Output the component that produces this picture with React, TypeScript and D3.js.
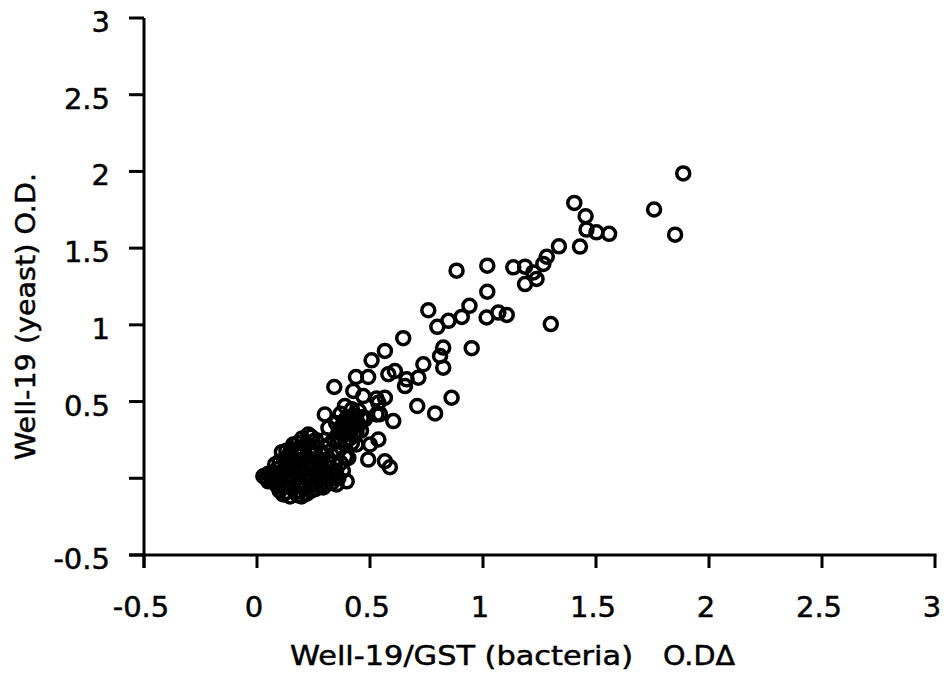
import React from "react";
import * as d3 from "d3";

const xTicks = [-0.5, 0, 0.5, 1, 1.5, 2, 2.5, 3];
const xTickLabels = ["-0.5", "0", "0.5", "1", "1.5", "2", "2.5", "3"];
const yTicks = [-0.5, 0, 0.5, 1, 1.5, 2, 2.5, 3];
const yTickLabels = ["-0.5", "", "0.5", "1", "1.5", "2", "2.5", "3"];

const xTitle = "Well-19/GST (bacteria)";
const xTitleUnit = "O.DΔ";
const yTitle = "Well-19 (yeast) O.D.";

// sparse points [bacteria OD, yeast OD]
const sparsePoints: [number, number][] = [
  [1.886, 1.987], [1.404, 1.795], [1.454, 1.708], [1.458, 1.621], [1.502, 1.603],
  [1.558, 1.593], [1.757, 1.752], [1.85, 1.588], [1.429, 1.51], [1.336, 1.512],
  [1.282, 1.444], [1.267, 1.397], [1.223, 1.342], [1.237, 1.299], [1.186, 1.266],
  [1.3, 1.005], [0.883, 1.353], [1.019, 1.386], [1.134, 1.375], [1.186, 1.379],
  [1.019, 1.216], [0.94, 1.124], [0.906, 1.052], [0.847, 1.026], [0.798, 0.987],
  [0.758, 1.095], [1.016, 1.048], [1.068, 1.08], [1.105, 1.065], [0.95, 0.848],
  [0.824, 0.852], [0.81, 0.797], [0.647, 0.913], [0.824, 0.721], [0.736, 0.743],
  [0.566, 0.83], [0.507, 0.769], [0.714, 0.656], [0.662, 0.645], [0.61, 0.699],
  [0.581, 0.678], [0.655, 0.601], [0.492, 0.66], [0.438, 0.66], [0.342, 0.595],
  [0.861, 0.525], [0.709, 0.471], [0.788, 0.423], [0.566, 0.525], [0.537, 0.492],
  [0.603, 0.373], [0.47, 0.536], [0.426, 0.569], [0.3, 0.416], [0.389, 0.471],
  [0.544, 0.418], [0.529, 0.52], [0.537, 0.253], [0.5, 0.22], [0.478, 0.385],
  [0.316, 0.329], [0.529, 0.416], [0.404, 0.133], [0.492, 0.122], [0.566, 0.111],
  [0.588, 0.072], [0.227, 0.285], [0.397, -0.02], [0.352, -0.04], [0.293, -0.06],
  [0.146, -0.118], [0.197, -0.118], [0.116, -0.105], [0.028, 0.013], [0.419, 0.392],
  [0.463, 0.392],
];

// dense lower cluster
const lowerCluster: [number, number][] = [
  [0.04, 0.0], [0.06, 0.02], [0.05, -0.02], [0.08, -0.03], [0.07, 0.04], [0.09, 0.06],
  [0.1, 0.0], [0.11, 0.03], [0.12, -0.05], [0.1, -0.08], [0.13, 0.08], [0.12, 0.12],
  [0.14, 0.15], [0.15, 0.05], [0.16, 0.0], [0.14, -0.03], [0.17, -0.09], [0.18, 0.1],
  [0.17, 0.18], [0.19, 0.2], [0.2, 0.05], [0.21, 0.13], [0.22, 0.22], [0.23, 0.0],
  [0.2, -0.05], [0.22, -0.1], [0.24, 0.08], [0.25, 0.16], [0.26, 0.25], [0.27, 0.03],
  [0.28, 0.12], [0.29, -0.03], [0.3, 0.2], [0.31, 0.07], [0.32, -0.01], [0.33, 0.15],
  [0.34, 0.25], [0.25, -0.04], [0.19, -0.02], [0.15, 0.1], [0.13, 0.01], [0.08, 0.09],
  [0.18, 0.15], [0.24, 0.19], [0.27, 0.09], [0.3, 0.0], [0.35, 0.05], [0.36, 0.18],
  [0.22, 0.06], [0.16, 0.22], [0.11, 0.17], [0.26, -0.07], [0.37, 0.1], [0.33, 0.04],
  [0.05, 0.03], [0.07, -0.01], [0.09, 0.02], [0.11, -0.02], [0.12, 0.05], [0.14, 0.02],
  [0.15, -0.06], [0.16, 0.08], [0.17, 0.04], [0.18, -0.04], [0.19, 0.07], [0.2, 0.16],
  [0.21, 0.02], [0.21, -0.07], [0.23, 0.11], [0.23, 0.17], [0.24, 0.03], [0.25, 0.1],
  [0.26, 0.2], [0.27, -0.02], [0.28, 0.06], [0.29, 0.16], [0.31, 0.11], [0.32, 0.22],
  [0.13, 0.18], [0.15, 0.19], [0.18, 0.23], [0.2, 0.26], [0.24, 0.27], [0.1, 0.11],
  [0.09, -0.05], [0.13, -0.09], [0.18, -0.11], [0.24, -0.08], [0.28, -0.05], [0.33, -0.03],
  [0.3, 0.25], [0.34, 0.1], [0.36, 0.0], [0.38, 0.05], [0.39, 0.14],
];

// dense upper cluster
const upperCluster: [number, number][] = [
  [0.36, 0.3], [0.38, 0.35], [0.4, 0.4], [0.42, 0.32], [0.44, 0.38], [0.41, 0.26],
  [0.39, 0.22], [0.43, 0.28], [0.45, 0.44], [0.37, 0.42], [0.42, 0.45], [0.46, 0.31],
  [0.35, 0.36], [0.4, 0.33], [0.44, 0.22], [0.38, 0.28], [0.47, 0.4], [0.41, 0.39],
  [0.36, 0.24], [0.43, 0.35], [0.39, 0.31], [0.41, 0.3], [0.42, 0.36], [0.4, 0.36],
  [0.43, 0.41], [0.39, 0.38], [0.44, 0.3], [0.42, 0.23], [0.37, 0.33], [0.45, 0.35],
];

const allPoints = [...sparsePoints, ...lowerCluster, ...upperCluster];

export default function App() {
  const x = d3.scaleLinear().domain([-0.5, 3]).range([144, 935]);
  const y = d3.scaleLinear().domain([-0.5, 3]).range([555, 18]);
  const font = "'DejaVu Sans', sans-serif";
  const x0 = x(-0.5);
  const y0 = y(-0.5);
  return (
    <div style={{ position: "absolute", left: 0, top: 0 }}>
      <svg width={949} height={677} style={{ display: "block", background: "#fff" }}>
        {/* axes */}
        <line x1={x0} x2={x0} y1={y(3)} y2={y0 + 13} stroke="#000" strokeWidth={3} />
        <line x1={x0 - 15} x2={x(3) + 1.5} y1={y0} y2={y0} stroke="#000" strokeWidth={3} />
        {yTicks.map((t, i) => (
          <g key={"y" + i}>
            <line x1={x0 - 15} x2={x0} y1={y(t)} y2={y(t)} stroke="#000" strokeWidth={3} />
            {yTickLabels[i] !== "" && (
              <text x={110} y={y(t) + 14} textAnchor="end" fontFamily={font} fontSize={29}
                fill="#000" stroke="#000" strokeWidth={0.5}>
                {yTickLabels[i]}
              </text>
            )}
          </g>
        ))}
        {xTicks.map((t, i) => (
          <g key={"x" + i}>
            <line x1={x(t)} x2={x(t)} y1={y0} y2={y0 + 13} stroke="#000" strokeWidth={3} />
            <text x={x(t) - 3} y={617} textAnchor="middle" fontFamily={font} fontSize={29}
              fill="#000" stroke="#000" strokeWidth={0.5}>
              {xTickLabels[i]}
            </text>
          </g>
        ))}
        {/* points */}
        {allPoints.map((p, i) => (
          <circle key={i} cx={x(p[0])} cy={y(p[1])} r={6.5} fill="none" stroke="#000" strokeWidth={3.5} />
        ))}
        {/* titles */}
        <text x={290} y={665} fontFamily={font} fontSize={27} fill="#000" stroke="#000" strokeWidth={0.5}
          textLength={343} lengthAdjust="spacingAndGlyphs">
          {xTitle}
        </text>
        <text x={663} y={665} fontFamily={font} fontSize={27} fill="#000" stroke="#000" strokeWidth={0.5}
          textLength={72} lengthAdjust="spacingAndGlyphs">
          {xTitleUnit}
        </text>
        <text
          transform="translate(35,460) rotate(-90)"
          x={0}
          y={0}
          fontFamily={font}
          fontSize={27}
          fill="#000"
          stroke="#000"
          strokeWidth={0.5}
          textLength={287}
          lengthAdjust="spacingAndGlyphs"
        >
          {yTitle}
        </text>
      </svg>
    </div>
  );
}
